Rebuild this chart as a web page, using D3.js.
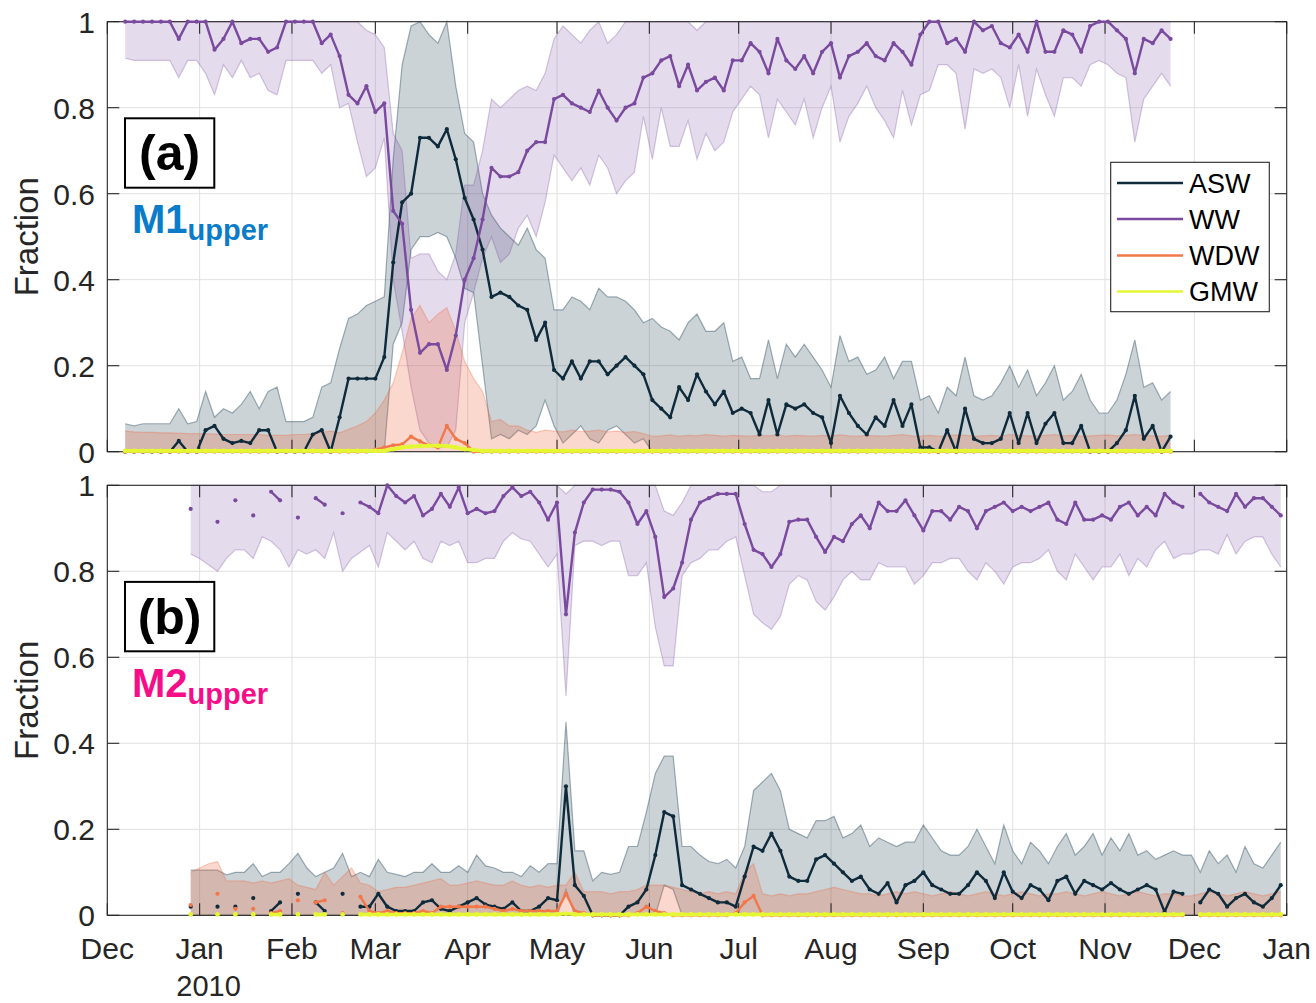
<!DOCTYPE html>
<html><head><meta charset="utf-8">
<script src="https://cdn.jsdelivr.net/npm/d3@7"></script>
<style>
body{margin:0;background:#fff}
svg{display:block}
text{font-family:"Liberation Sans",Arial,Helvetica,sans-serif}
</style>
</head><body>
<svg id="c" width="1316" height="1003"></svg>
<script>
// ---------------- DATA ----------------
const monthLabels = ["Dec","Jan","Feb","Mar","Apr","May","Jun","Jul","Aug","Sep","Oct","Nov","Dec","Jan"];
const yearLabel = "2010";
const yTicks = [0,0.2,0.4,0.6,0.8,1];
const yTickLabels = ["0","0.2","0.4","0.6","0.8","1"];
const seriesNames = ["ASW","WW","WDW","GMW"];
const yLabel = "Fraction";

// Panel (a) M1upper: samples every 3 days starting Dec 7 2009 (day offset 6 from Dec 1 2009)
const aStartDay = 6, stepDays = 3;
const aWW = [
1,1,1,1,1,1,.96,1,1,1,
.935,.96,1,.95,.96,.96,.93,.94,1,1,
1,1,.95,.97,.92,.83,.81,.85,.79,.81,
.56,.53,.33,.23,.25,.25,.19,.27,.40,.45,
.54,.66,.64,.64,.65,.70,.72,.72,.82,.83,
.81,.80,.79,.84,.80,.77,.80,.81,.87,.88,
.91,.92,.85,.90,.84,.86,.87,.84,.91,.91,
.95,.93,.88,.96,.91,.89,.92,.88,.93,.95,
.87,.92,.93,.95,.92,.91,.95,.93,.90,.97,
1,1,.95,.96,.93,1,.98,.99,.95,.94,
.97,.93,1,.93,.93,.98,.97,.93,.99,1,
1,.98,.96,.88,.96,.95,.98,.96];
const aWWlo = [
.915,.91,.91,.91,.91,.91,.87,.91,.91,.88,
.83,.90,.87,.91,.87,.88,.84,.83,.91,.91,
.91,.91,.88,.90,.80,.81,.72,.64,.66,.73,
.40,.28,.15,.05,.02,.01,.01,.05,.30,.37,
.45,.50,.44,.46,.52,.55,.50,.58,.69,.66,
.63,.66,.62,.69,.66,.60,.63,.65,.78,.68,
.80,.71,.71,.77,.68,.74,.70,.72,.79,.82,
.85,.83,.73,.82,.79,.76,.82,.73,.80,.85,
.72,.78,.81,.85,.80,.77,.73,.84,.76,.83,
.84,.90,.90,.88,.75,.89,.88,.89,.87,.80,
.90,.78,.89,.83,.78,.87,.87,.85,.90,.91,
.90,.88,.87,.72,.82,.85,.88,.85];
const aWWhi = [
1,1,1,1,1,1,1,1,1,1,
1,1,1,1,1,1,1,1,1,1,
1,1,1,1,1,1,1,.98,.97,.94,
.74,.70,.45,.46,.46,.42,.40,.46,.62,.62,
.70,.82,.80,.82,.84,.85,.84,.88,.96,.99,
.97,.95,.98,1,.95,.97,1,1,1,1,
1,1,1,1,.98,1,1,1,1,1,
1,1,1,1,1,1,1,1,1,1,
1,1,1,1,1,1,1,1,1,1,
1,1,1,1,1,1,1,1,1,1,
1,1,1,1,1,1,1,1,1,1,
1,1,1,1,1,1,1,1];
const aASW = [
0,0,0,0,0,0,.025,0,0,.05,
.06,.03,.02,.025,.02,.05,.05,0,0,0,
0,.04,.05,0,.08,.17,.17,.17,.17,.22,
.44,.58,.60,.73,.73,.71,.75,.68,.59,.54,
.47,.36,.37,.36,.34,.33,.26,.30,.19,.17,
.21,.17,.21,.21,.18,.20,.22,.20,.18,.12,
.10,.08,.15,.12,.18,.14,.11,.14,.09,.10,
.09,.04,.12,.04,.11,.10,.11,.09,.08,.02,
.13,.09,.06,.04,.08,.06,.12,.06,.11,.01,
.01,0,.05,0,.10,.03,.02,.02,.03,.09,
.02,.09,.02,.065,.09,.02,.02,.06,0,0,
0,.02,.05,.13,.03,.06,0,.035];
const aASWhi = [
.065,.06,.065,.065,.065,.065,.10,.065,.07,.14,
.08,.10,.09,.11,.14,.10,.14,.15,.07,.07,
.07,.08,.15,.16,.24,.31,.32,.34,.35,.36,
.68,.90,.99,1,.97,.95,1,.85,.74,.72,
.60,.55,.52,.50,.48,.52,.47,.45,.33,.33,
.36,.35,.33,.38,.36,.36,.35,.33,.30,.31,
.29,.28,.26,.30,.32,.28,.28,.30,.21,.22,
.17,.17,.26,.17,.25,.22,.25,.22,.19,.15,
.27,.21,.22,.18,.19,.22,.17,.21,.21,.12,
.13,.09,.15,.13,.22,.13,.12,.13,.16,.20,
.15,.19,.13,.16,.20,.12,.14,.18,.12,.09,
.09,.12,.18,.26,.15,.16,.12,.14];
const aASWlo = [
0,0,0,0,0,0,0,0,0,0,
0,0,0,0,0,0,0,0,0,0,
0,0,0,0,0,0,0,0,0,0,
.25,.30,.47,.50,.50,.51,.50,.45,.38,.37,
.20,.03,.04,.03,.05,.04,.06,.12,.06,.02,
.04,.06,.03,.02,.05,.06,.04,.02,.03,0,
0,0,0,0,0,0,0,0,0,0,
0,0,0,0,0,0,0,0,0,0,
0,0,0,0,0,0,0,0,0,0,
0,0,0,0,0,0,0,0,0,0,
0,0,0,0,0,0,0,0,0,0,
0,0,0,0,0,0,0,0];
const aWDW = [
0,0,0,0,0,0,0,0,0,0,
0,0,0,0,0,0,0,0,0,0,
0,0,0,0,0,0,0,0,.005,.01,
.015,.017,.035,.024,.015,.01,.06,.03,.02,0,
0,0,0,0,0,0,0,0,0,0,
0,0,0,0,0,0,0,0,0,0,
0,0,0,0,0,0,0,0,0,0,
0,0,0,0,0,0,0,0,0,0,
0,0,0,0,0,0,0,0,0,0,
0,0,0,0,0,0,0,0,0,0,
0,0,0,0,0,0,0,0,0,0,
0,0,0,0,0,0,0,0];
const aWDWhi = [
.048,.046,.045,.045,.044,.044,.043,.042,.042,.042,
.041,.04,.04,.04,.04,.04,.038,.038,.038,.04,
.04,.042,.045,.048,.044,.052,.06,.07,.09,.12,
.16,.23,.31,.34,.30,.32,.335,.28,.21,.17,
.14,.07,.075,.06,.06,.05,.045,.05,.048,.046,
.05,.047,.048,.05,.046,.048,.045,.047,.042,.036,
.037,.039,.036,.038,.037,.04,.038,.036,.038,.037,
.036,.038,.037,.039,.036,.038,.037,.036,.038,.037,
.039,.037,.036,.038,.037,.036,.038,.04,.037,.036,
.038,.036,.037,.039,.038,.036,.037,.038,.036,.04,
.038,.037,.036,.038,.04,.037,.038,.036,.037,.038,
.039,.037,.038,.04,.038,.037,.036,.038];
const aGMW = [
.002,.002,.002,.002,.002,.002,.002,.002,.002,.002,
.002,.002,.002,.002,.002,.002,.002,.002,.002,.002,
.002,.002,.002,.002,.002,.002,.002,.002,.002,.002,
.006,.01,.012,.013,.014,.014,.013,.01,.006,.004,
.002,.002,.002,.002,.002,.002,.002,.002,.002,.002,
.002,.002,.002,.002,.002,.002,.002,.002,.002,.002,
.002,.002,.002,.002,.002,.002,.002,.002,.002,.002,
.002,.002,.002,.002,.002,.002,.002,.002,.002,.002,
.002,.002,.002,.002,.002,.002,.002,.002,.002,.002,
.002,.002,.002,.002,.002,.002,.002,.002,.002,.002,
.002,.002,.002,.002,.002,.002,.002,.002,.002,.002,
.002,.002,.002,.002,.002,.002,.002,.002];

// Panel (b) M2upper: samples every 3 days starting Dec 29 2009 (day offset 28)
const bStartDay = 28;
const bWW = [
.945,null,null,.915,null,.965,null,.93,null,.985,
.965,null,.925,null,.97,.955,null,.935,null,.96,
.95,.935,1,.975,.96,.975,.93,.945,.98,.95,
.995,.935,.945,.935,.94,.975,.995,.975,.985,.96,
.92,.96,.70,.89,.96,.99,.99,.99,.985,.96,
.91,.94,.88,.74,.76,.82,.92,.96,.97,.98,
.98,.98,.91,.85,.84,.81,.84,.915,.92,.92,
.88,.845,.88,.87,.91,.93,.90,.96,.94,.94,
.965,.93,.895,.94,.94,.92,.95,.94,.90,.94,
.95,.96,.94,.95,.94,.95,.96,.92,.91,.96,
.92,.92,.93,.92,.95,.96,.93,.95,.93,.98,
.96,.95,null,.98,.96,.95,.94,.98,.95,.97,
.97,.95,.93];
const bWWlo = [
.84,.83,.815,.80,.83,.85,.85,.83,.88,.87,
.85,.81,.85,.84,.85,.83,.89,.80,.83,.845,
.86,.81,.89,.87,.85,.87,.83,.82,.87,.86,
.87,.82,.82,.83,.83,.87,.89,.875,.87,.84,
.81,.84,.51,.86,.87,.87,.86,.87,.87,.79,
.79,.82,.67,.58,.58,.79,.82,.83,.85,.85,
.87,.88,.79,.70,.68,.665,.695,.77,.79,.78,
.73,.71,.74,.78,.80,.78,.78,.82,.81,.81,
.81,.77,.79,.82,.82,.83,.83,.80,.78,.82,
.80,.77,.81,.82,.82,.83,.85,.80,.78,.84,
.81,.78,.81,.81,.84,.79,.83,.81,.85,.87,
.83,.84,.84,.85,.85,.84,.885,.84,.87,.88,
.88,.84,.81];
const bWWhi = [
1,1,1,1,1,1,1,1,1,1,
1,1,1,1,1,1,1,1,1,1,
1,1,1,1,1,1,1,1,1,1,
1,1,1,1,1,1,1,1,1,1,
1,1,.98,1,1,1,1,1,1,1,
1,1,1,.94,.93,.96,1,1,1,1,
1,1,1,1,.985,.985,1,1,1,1,
1,1,1,1,1,1,1,1,1,1,
1,1,1,1,1,1,1,1,1,1,
1,1,1,1,1,1,1,1,1,1,
1,1,1,1,1,1,1,1,1,1,
1,1,1,1,1,1,1,1,1,1,
1,1,1];
const bASW = [
.02,null,null,.02,null,.02,null,.04,null,.01,
.03,null,.05,null,.03,.01,null,.05,null,.02,
.02,.05,.02,.01,.01,.01,.03,.035,.015,.01,
.02,.03,.04,.025,.02,.015,.03,.01,.01,.02,
.04,.035,.30,.07,.045,0,0,0,0,.02,
.03,.06,.14,.24,.23,.07,.06,.05,.04,.03,
.03,.02,.09,.16,.15,.19,.15,.09,.08,.08,
.13,.14,.12,.10,.08,.09,.06,.05,.075,.03,
.07,.08,.10,.07,.06,.05,.05,.07,.10,.08,
.04,.10,.055,.04,.07,.06,.035,.08,.09,.05,
.08,.07,.06,.075,.06,.05,.06,.07,.06,.008,
.055,.05,null,.03,.06,.05,.02,.04,.05,.03,
.02,.04,.07];
const bASWhi = [
.105,.105,.105,.105,.094,.10,.10,.12,.09,.10,
.10,.12,.144,.11,.09,.10,.11,.144,.09,.10,
.09,.13,.10,.095,.09,.10,.10,.12,.10,.10,
.115,.10,.14,.115,.11,.10,.10,.09,.115,.10,
.12,.12,.45,.15,.15,.08,.10,.095,.10,.16,
.16,.24,.33,.37,.37,.16,.16,.14,.125,.12,
.13,.11,.16,.29,.31,.33,.29,.20,.19,.18,
.22,.22,.23,.18,.19,.21,.16,.18,.17,.16,
.17,.17,.21,.18,.15,.14,.14,.16,.20,.16,
.12,.21,.15,.12,.17,.15,.12,.16,.19,.14,
.16,.19,.14,.18,.15,.19,.14,.15,.13,.14,
.15,.14,.14,.10,.15,.12,.14,.10,.16,.12,
.11,.14,.17];
const bASWlo = [
0,0,0,0,0,0,0,0,0,0,
0,0,0,0,0,0,0,0,0,0,
0,0,0,0,0,0,0,0,0,0,
0,0,0,0,0,0,0,0,0,0,
0,0,.06,0,0,0,0,0,0,0,
0,0,0,.07,.06,0,0,0,0,0,
0,0,0,0,0,0,0,0,0,0,
0,0,0,0,0,0,0,0,0,0,
0,0,0,0,0,0,0,0,0,0,
0,0,0,0,0,0,0,0,0,0,
0,0,0,0,0,0,0,0,0,0,
0,0,0,0,0,0,0,0,0,0,
0,0,0];
const bWDW = [
.024,null,null,.05,null,.015,null,.015,null,.005,
.01,null,.035,null,.03,.035,null,.005,null,.043,
.01,.005,.01,.005,.005,.005,.01,.005,.02,.02,
.02,.02,.02,.02,.015,.01,.015,.01,.01,.01,
.01,.01,.05,.01,.005,0,0,0,0,0,
.005,.02,.01,.005,0,0,0,0,0,0,
0,.005,.03,.045,0,0,0,0,0,0,
0,0,0,0,0,0,0,0,0,0,
0,0,0,0,0,0,0,0,0,0,
0,0,0,0,0,0,0,0,0,0,
0,0,0,0,0,0,0,0,0,0,
0,0,null,0,0,0,0,0,0,0,
0,0,0];
const bWDWhi = [
.10,.11,.12,.125,.08,.08,.08,.075,.08,.075,
.08,.085,.07,.065,.06,.10,.07,.09,.11,.075,
.07,.055,.06,.065,.065,.07,.075,.08,.085,.07,
.07,.075,.08,.075,.07,.07,.08,.07,.065,.07,
.065,.07,.07,.10,.055,.055,.055,.05,.055,.055,
.06,.07,.07,.07,.065,.06,.055,.05,.055,.05,
.055,.05,.10,.12,.05,.045,.05,.045,.05,.05,
.055,.06,.065,.06,.055,.05,.05,.045,.05,.055,
.05,.055,.05,.045,.05,.055,.05,.045,.05,.055,
.05,.045,.05,.055,.05,.045,.05,.05,.055,.05,
.045,.05,.055,.05,.045,.05,.055,.05,.045,.05,
.05,.045,.045,.05,.055,.05,.045,.05,.055,.05,
.045,.05,.055];
const bGMW = [
.002,null,null,.002,null,.002,null,.002,null,.002,
.002,null,.002,null,.002,.002,null,.002,null,.002,
.002,.002,.002,.002,.002,.002,.002,.002,.002,.002,
.002,.002,.002,.002,.002,.002,.002,.002,.002,.002,
.002,.002,.004,.002,.002,.002,.002,.002,.002,.002,
.002,.002,.002,.002,.002,.002,.002,.002,.002,.002,
.002,.002,.002,.002,.002,.002,.002,.002,.002,.002,
.002,.002,.002,.002,.002,.002,.002,.002,.002,.002,
.002,.002,.002,.002,.002,.002,.002,.002,.002,.002,
.002,.002,.002,.002,.002,.002,.002,.002,.002,.002,
.002,.002,.002,.002,.002,.002,.002,.002,.002,.002,
.002,.002,null,.002,.002,.002,.002,.002,.002,.002,
.002,.002,.002];

// ---------------- STYLE ----------------
const lineColor = {ASW:"#0f2b3b", WW:"#7a4a9e", WDW:"#f2784a", GMW:"#e5f733"};
const fillColor = {ASW:"rgba(19,55,73,0.22)", WW:"rgba(120,75,160,0.2)", WDW:"rgba(240,100,55,0.25)"};
const edgeColor = {ASW:"rgba(19,55,73,0.38)", WW:"rgba(120,75,160,0.3)", WDW:"rgba(240,100,55,0.3)"};
const axisColor = "#262626";
const gridColor = "#e1e1e1";

const svg = d3.select("#c");
svg.append("rect").attr("width",1316).attr("height",1003).attr("fill","#fff");

const X0 = 107.3, X1 = 1286.7;
const t0 = new Date(2009,11,1), t1 = new Date(2011,0,1);
const x = d3.scaleTime().domain([t0,t1]).range([X0,X1]);
const monthTicks = d3.timeMonth.range(t0, d3.timeDay.offset(t1,1));

const panels = [
  {top:21.7, bottom:451.7, start:aStartDay, tag:"(a)", site:"M1", siteColor:"#0a7cc9", legend:true, xlabels:false,
   WW:aWW, WWlo:aWWlo, WWhi:aWWhi, ASW:aASW, ASWlo:aASWlo, ASWhi:aASWhi, WDW:aWDW, WDWhi:aWDWhi, GMW:aGMW},
  {top:485.3, bottom:915.3, start:bStartDay, tag:"(b)", site:"M2", siteColor:"#f80d89", legend:false, xlabels:true,
   WW:bWW, WWlo:bWWlo, WWhi:bWWhi, ASW:bASW, ASWlo:bASWlo, ASWhi:bASWhi, WDW:bWDW, WDWhi:bWDWhi, GMW:bGMW}
];

panels.forEach(p => {
  const y = d3.scaleLinear().domain([0,1]).range([p.bottom, p.top]);
  const n = p.WW.length;
  const dates = d3.range(n).map(i => d3.timeDay.offset(t0, p.start + stepDays*i));
  const g = svg.append("g");

  // grid
  g.append("g").selectAll("line").data(monthTicks.slice(1,-1)).join("line")
    .attr("x1",d=>x(d)).attr("x2",d=>x(d)).attr("y1",p.top).attr("y2",p.bottom)
    .attr("stroke",gridColor).attr("stroke-width",1);
  g.append("g").selectAll("line").data(yTicks.slice(1,-1)).join("line")
    .attr("x1",X0).attr("x2",X1).attr("y1",d=>y(d)).attr("y2",d=>y(d))
    .attr("stroke",gridColor).attr("stroke-width",1);

  // bands
  const band = (lo, hi, key) => {
    const idx = d3.range(n);
    const area = d3.area().x(i=>x(dates[i])).y0(i=>y(lo ? lo[i] : 0)).y1(i=>y(hi[i]));
    g.append("path").attr("d", area(idx)).attr("fill", fillColor[key]).attr("stroke","none");
    const up = d3.line().x(i=>x(dates[i])).y(i=>y(hi[i]));
    g.append("path").attr("d", up(idx)).attr("fill","none").attr("stroke",edgeColor[key]).attr("stroke-width",1.2);
    if (lo) {
      const dn = d3.line().x(i=>x(dates[i])).y(i=>y(lo[i]));
      g.append("path").attr("d", dn(idx)).attr("fill","none").attr("stroke",edgeColor[key]).attr("stroke-width",1.2);
    }
  };
  band(p.ASWlo, p.ASWhi, "ASW");
  band(p.WWlo, p.WWhi, "WW");
  band(null, p.WDWhi, "WDW");

  // box
  g.append("rect").attr("x",X0).attr("y",p.top).attr("width",X1-X0).attr("height",p.bottom-p.top)
    .attr("fill","none").attr("stroke",axisColor).attr("stroke-width",1.1);

  // ticks (inward, all sides)
  const tl = 12;
  const tk = g.append("g").attr("stroke",axisColor).attr("stroke-width",1.1);
  monthTicks.forEach(d => {
    tk.append("line").attr("x1",x(d)).attr("x2",x(d)).attr("y1",p.bottom).attr("y2",p.bottom-tl);
    tk.append("line").attr("x1",x(d)).attr("x2",x(d)).attr("y1",p.top).attr("y2",p.top+tl);
  });
  yTicks.forEach(v => {
    tk.append("line").attr("x1",X0).attr("x2",X0+tl).attr("y1",y(v)).attr("y2",y(v));
    tk.append("line").attr("x1",X1).attr("x2",X1-tl).attr("y1",y(v)).attr("y2",y(v));
  });

  // mean lines with markers (drawn over the axes box, as in the original)
  seriesNames.forEach(s => {
    const vals = p[s];
    const idx = d3.range(n);
    const ln = d3.line().defined(i => vals[i] != null).x(i=>x(dates[i])).y(i=>y(vals[i]));
    const w = s === "GMW" ? 3.6 : 2.4;
    g.append("path").attr("d", ln(idx)).attr("fill","none").attr("stroke",lineColor[s])
      .attr("stroke-width",w).attr("stroke-linejoin","round");
    g.append("g").selectAll("circle").data(idx.filter(i=>vals[i]!=null)).join("circle")
      .attr("cx",i=>x(dates[i])).attr("cy",i=>y(vals[i])).attr("r", s==="GMW"?2.4:2.1)
      .attr("fill",lineColor[s]);
  });

  // y tick labels
  g.append("g").selectAll("text").data(yTicks).join("text")
    .attr("x",95).attr("y",v=>y(v)).attr("dy","0.36em").attr("text-anchor","end")
    .attr("font-size",30).attr("fill",axisColor).text((v,i)=>yTickLabels[i]);

  // y axis label
  g.append("text").attr("transform",`translate(26,${(p.top+p.bottom)/2}) rotate(-90)`)
    .attr("text-anchor","middle").attr("dy","0.36em").attr("font-size",33).attr("fill",axisColor).text(yLabel);

  // x tick labels
  if (p.xlabels) {
    g.append("g").selectAll("text").data(monthTicks).join("text")
      .attr("x",d=>x(d)).attr("y",959).attr("text-anchor","middle")
      .attr("font-size",30).attr("fill",axisColor).text((d,i)=>monthLabels[i]);
    g.append("text").attr("x",x(monthTicks[1])+9).attr("y",996).attr("text-anchor","middle")
      .attr("font-size",29).attr("fill",axisColor).text(yearLabel);
  }

  // panel tag box
  const off = p.top - 21.7;
  g.append("rect").attr("x",125).attr("y",118.3+off).attr("width",89.3).attr("height",69.4)
    .attr("fill","#fff").attr("stroke","#000").attr("stroke-width",2);
  g.append("text").attr("x",169.6).attr("y",170+off).attr("text-anchor","middle")
    .attr("font-size",50).attr("font-weight","bold").attr("fill","#000").text(p.tag);
  const st = g.append("text").attr("x",132).attr("y",233+off).attr("font-weight","bold").attr("fill",p.siteColor);
  st.append("tspan").attr("font-size",40).text(p.site);
  st.append("tspan").attr("font-size",29).attr("dy",7).text("upper");

  // legend
  if (p.legend) {
    const lg = g.append("g");
    lg.append("rect").attr("x",1110.7).attr("y",162.3).attr("width",158.6).attr("height",149.4)
      .attr("fill","#fff").attr("stroke",axisColor).attr("stroke-width",1.1);
    const rows = [183,219,255.5,291.5];
    seriesNames.forEach((s,i) => {
      lg.append("line").attr("x1",1117).attr("x2",1183).attr("y1",rows[i]).attr("y2",rows[i])
        .attr("stroke",lineColor[s]).attr("stroke-width",2.4);
      lg.append("text").attr("x",1189).attr("y",rows[i]).attr("dy","0.36em")
        .attr("font-size",27).attr("fill","#000").text(s);
    });
  }
});
</script>
</body></html>
